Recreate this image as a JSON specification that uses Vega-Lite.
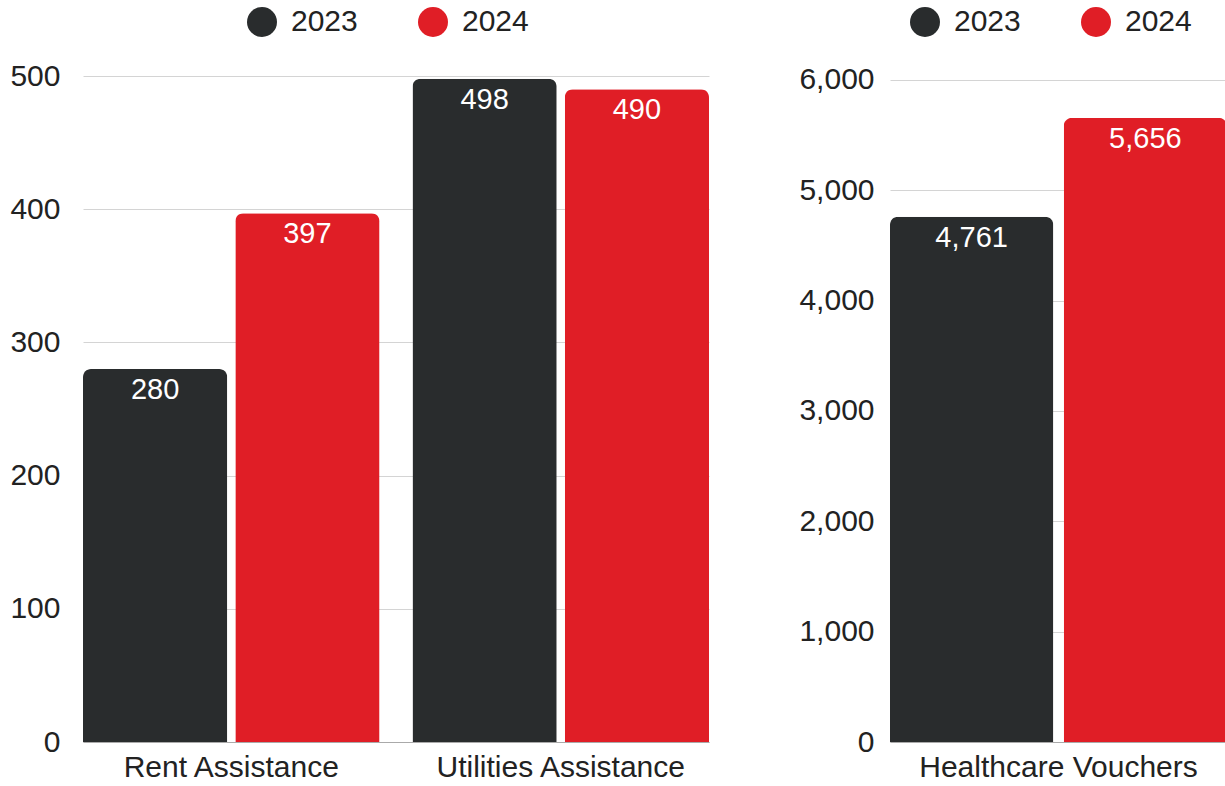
{
  "$schema": "https://vega.github.io/schema/vega-lite/v6.json",
  "padding": {"left": 9, "top": 7, "right": 0, "bottom": 0},
  "spacing": 88,
  "background": "white",
  "datasets": {
    "d": [
      {"panel": "A", "program": "Rent Assistance", "year": "2023", "value": 280},
      {"panel": "A", "program": "Rent Assistance", "year": "2024", "value": 397},
      {"panel": "A", "program": "Utilities Assistance", "year": "2023", "value": 498},
      {"panel": "A", "program": "Utilities Assistance", "year": "2024", "value": 490},
      {"panel": "B", "program": "Healthcare Vouchers", "year": "2023", "value": 4761},
      {"panel": "B", "program": "Healthcare Vouchers", "year": "2024", "value": 5656}
    ]
  },
  "config": {
    "font": "Liberation Sans",
    "view": {"stroke": null},
    "axis": {
      "labelFont": "Liberation Sans",
      "labelColor": "#222222",
      "labelFontSize": 30,
      "labelLimit": 0,
      "ticks": false,
      "gridColor": "#d4d4d4",
      "gridWidth": 1,
      "domain": false
    },
    "legend": {
      "labelFont": "Liberation Sans",
      "labelFontSize": 30,
      "labelColor": "#222222",
      "symbolType": "circle",
      "symbolSize": 900,
      "symbolStrokeWidth": 0,
      "symbolOpacity": 1,
      "labelOffset": 14,
      "columnPadding": 60,
      "padding": 0
    }
  },
  "resolve": {
    "scale": {"color": "independent", "y": "independent", "x": "independent", "xOffset": "independent"},
    "legend": {"color": "independent"}
  },
  "hconcat": [
    {
      "width": 626,
      "height": 666,
      "data": {"name": "d"},
      "transform": [{"filter": "datum.panel == 'A'"}],
      "encoding": {
        "x": {
          "field": "program", "type": "nominal",
          "sort": ["Rent Assistance", "Utilities Assistance"],
          "scale": {"paddingInner": 0.1, "paddingOuter": 0},
          "axis": {"title": null, "labelAngle": 0, "labelPadding": 10, "domain": true, "domainColor": "#aaaaaa", "grid": false}
        },
        "xOffset": {
          "field": "year", "type": "nominal",
          "scale": {"paddingInner": 0.053, "paddingOuter": 0}
        },
        "y": {
          "field": "value", "type": "quantitative",
          "scale": {"domain": [0, 500], "nice": false},
          "axis": {"title": null, "values": [0, 100, 200, 300, 400, 500], "labelPadding": 23}
        },
        "color": {
          "field": "year", "type": "nominal",
          "scale": {"domain": ["2023", "2024"], "range": ["#292c2d", "#e01e26"]},
          "legend": {"title": null, "orient": "none", "direction": "horizontal", "legendX": 164, "legendY": -69}
        }
      },
      "layer": [
        {"mark": {"type": "bar", "cornerRadiusTopLeft": 8, "cornerRadiusTopRight": 8}},
        {
          "mark": {"type": "text", "baseline": "middle", "dy": 21, "fontSize": 29, "font": "Liberation Sans"},
          "encoding": {"text": {"field": "value", "format": ","}, "color": {"value": "white"}}
        }
      ]
    },
    {
      "width": 337,
      "height": 666,
      "data": {"name": "d"},
      "transform": [{"filter": "datum.panel == 'B'"}],
      "encoding": {
        "x": {
          "field": "program", "type": "nominal",
          "scale": {"paddingInner": 0, "paddingOuter": 0},
          "axis": {"title": null, "labelAngle": 0, "labelPadding": 10, "domain": true, "domainColor": "#aaaaaa", "grid": false}
        },
        "xOffset": {
          "field": "year", "type": "nominal",
          "scale": {"paddingInner": 0.06, "paddingOuter": 0}
        },
        "y": {
          "field": "value", "type": "quantitative",
          "scale": {"domain": [0, 6036], "nice": false},
          "axis": {"title": null, "values": [0, 1000, 2000, 3000, 4000, 5000, 6000], "format": ",.0f", "labelPadding": 16}
        },
        "color": {
          "field": "year", "type": "nominal",
          "scale": {"domain": ["2023", "2024"], "range": ["#292c2d", "#e01e26"]},
          "legend": {"title": null, "orient": "none", "direction": "horizontal", "legendX": 20, "legendY": -69}
        }
      },
      "layer": [
        {"mark": {"type": "bar", "cornerRadiusTopLeft": 8, "cornerRadiusTopRight": 8}},
        {
          "mark": {"type": "text", "baseline": "middle", "dy": 21, "fontSize": 29, "font": "Liberation Sans"},
          "encoding": {"text": {"field": "value", "format": ","}, "color": {"value": "white"}}
        }
      ]
    }
  ]
}
